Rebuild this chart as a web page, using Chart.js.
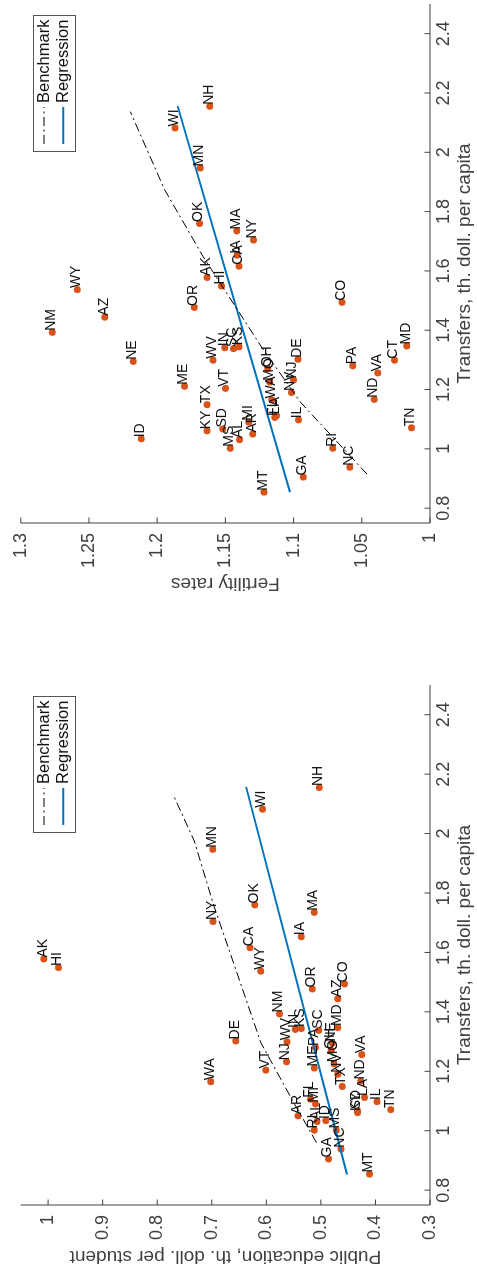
<!DOCTYPE html>
<html>
<head>
<meta charset="utf-8">
<script src="https://cdn.jsdelivr.net/npm/chart.js@4.4.1/dist/chart.umd.min.js"></script>
<style>
html, body { margin: 0; padding: 0; background: #fff; }
body { width: 477px; height: 1269px; overflow: hidden; position: relative; }
/* the figure is laid out landscape and turned a quarter turn */
#figure {
    position: absolute; left: 0; top: 0;
    width: 1269px; height: 477px;
    transform-origin: 0 0;
    transform: translateY(1269px) rotate(-90deg);
    background: #fff;
}
#pubChart { position: absolute; left: 0; top: 0; }
#fertChart { position: absolute; left: 640px; top: 0; }
</style>
</head>
<body>
<div id="figure">
    <canvas id="pubChart" width="600" height="477"></canvas>
    <canvas id="fertChart" width="629" height="477"></canvas>
</div>
<script>
// states, transfers per capita, public education per student (null = off the axis), fertility
const states = ['AK','AL','AR','AZ','CA','CO','CT','DE','FL','GA','HI','IA','ID','IL','IN','KS','KY','LA',
    'MA','MD','ME','MI','MN','MO','MS','MT','NC','ND','NE','NH','NJ','NM','NV','NY','OH','OK','OR','PA',
    'RI','SC','SD','TN','TX','VA','VT','WA','WI','WV','WY'];
const transfers = [1.578, 1.031, 1.050, 1.444, 1.616, 1.494, 1.299, 1.302, 1.106, 0.905, 1.549, 1.653, 1.034,
    1.098, 1.341, 1.344, 1.061, 1.112, 1.735, 1.347, 1.211, 1.090, 1.947, 1.225, 1.002, 0.854, 0.938, 1.167,
    1.295, 2.155, 1.232, 1.393, 1.190, 1.704, 1.270, 1.760, 1.477, 1.280, 1.002, 1.338, 1.067, 1.071, 1.149,
    1.256, 1.204, 1.165, 2.082, 1.299, 1.537];
const pubEdu = [1.008, 0.507, 0.542, 0.469, 0.630, 0.4565, null, 0.656, 0.519, 0.486, 0.981, 0.536, 0.491,
    0.397, 0.547, 0.536, 0.433, 0.420, 0.512, 0.469, 0.512, 0.510, 0.698, 0.476, 0.472, 0.411, 0.463, 0.427,
    0.479, 0.503, 0.563, 0.576, 0.469, 0.6975, 0.481, 0.621, 0.516, 0.510, 0.512, 0.504, 0.433, 0.372, 0.461,
    0.425, 0.601, 0.702, 0.607, 0.562, 0.610];
const fertility = [1.1635, 1.1396, 1.130, 1.2385, 1.140, 1.0645, 1.026, 1.0968, 1.1139, 1.093, 1.1528, 1.1415,
    1.2117, 1.0964, 1.1504, 1.140, 1.1635, 1.1125, 1.1416, 1.017, 1.180, 1.1328, 1.1684, 1.1175, 1.1465, 1.1217,
    1.0589, 1.0409, 1.2175, 1.1615, 1.100, 1.2769, 1.1015, 1.1294, 1.119, 1.169, 1.1728, 1.0567, 1.0713, 1.144,
    1.152, 1.0135, 1.1635, 1.0383, 1.150, 1.116, 1.1869, 1.159, 1.2586];

// model curves
const benchPubX = [0.96, 1.094, 1.296, 1.543, 1.756, 1.975, 2.132];
const benchPubY = [0.508, 0.5496, 0.610, 0.656, 0.696, 0.732, 0.771];
const regPubX = [0.853, 2.157];
const regPubY = [0.452, 0.637];
const benchFertX = [0.915, 1.157, 1.347, 1.65, 1.729, 1.875, 2.137];
const benchFertY = [1.0462, 1.0949, 1.124, 1.1666, 1.1764, 1.1947, 1.2197];
const regFertX = [0.854, 2.156];
const regFertY = [1.1027, 1.185];

// axis ticks
const transferTicks = [0.8, 1, 1.2, 1.4, 1.6, 1.8, 2, 2.2, 2.4];
const pubTicks = [0.3, 0.4, 0.5, 0.6, 0.7, 0.8, 0.9, 1];
const fertTicks = [1, 1.05, 1.1, 1.15, 1.2, 1.25, 1.3];

const FONT = '"Liberation Sans", Arial, Helvetica, sans-serif';
const AXIS_COLOR = '#404040';
const DOT_COLOR = '#D95319';
const REG_COLOR = '#0072BD';

const pairs = (xs, ys) => xs.map((x, i) => ({ x: x, y: ys[i] }));
const fmt = v => String(Math.round(v * 100) / 100);

// axis lines with inward tick marks
const boxAxes = {
    id: 'boxAxes',
    afterDraw(chart) {
        const { ctx, chartArea: a, scales } = chart;
        const len = 5.5;
        ctx.save();
        ctx.strokeStyle = AXIS_COLOR;
        ctx.lineWidth = 1;
        ctx.beginPath();
        ctx.moveTo(a.left, a.top);
        ctx.lineTo(a.left, a.bottom);
        ctx.lineTo(a.right, a.bottom);
        scales.x.ticks.forEach(t => {
            const px = scales.x.getPixelForValue(t.value);
            ctx.moveTo(px, a.bottom);
            ctx.lineTo(px, a.bottom - len);
        });
        scales.y.ticks.forEach(t => {
            const py = scales.y.getPixelForValue(t.value);
            ctx.moveTo(a.left, py);
            ctx.lineTo(a.left + len, py);
        });
        ctx.stroke();
        ctx.restore();
    }
};

// state abbreviations next to each dot
const stateLabels = {
    id: 'stateLabels',
    afterDatasetsDraw(chart) {
        const ctx = chart.ctx;
        chart.data.datasets.forEach((ds, i) => {
            if (!ds.names) return;
            const meta = chart.getDatasetMeta(i);
            ctx.save();
            ctx.font = '14px ' + FONT;
            ctx.fillStyle = '#111';
            ctx.textBaseline = 'middle';
            meta.data.forEach((el, j) => ctx.fillText(ds.names[j], el.x + 1.5, el.y - 1));
            ctx.restore();
        });
    }
};

// framed legend in the upper right corner
const boxLegend = {
    id: 'boxLegend',
    afterDraw(chart) {
        const { ctx, chartArea: a } = chart;
        const items = chart.data.datasets.filter(ds => ds.showLine);
        const w = 136, h = 42;
        const left = Math.round(a.right - 12 - w), top = Math.round(a.top + 12);
        ctx.save();
        ctx.fillStyle = '#fff';
        ctx.fillRect(left, top, w, h);
        ctx.strokeStyle = '#555';
        ctx.lineWidth = 1;
        ctx.strokeRect(left + 0.5, top + 0.5, w, h);
        ctx.font = '16.5px ' + FONT;
        ctx.textBaseline = 'middle';
        items.forEach((ds, k) => {
            const yy = top + 11 + k * 19.3;
            ctx.strokeStyle = ds.borderColor;
            ctx.lineWidth = ds.borderWidth;
            ctx.setLineDash(ds.borderDash || []);
            ctx.beginPath();
            ctx.moveTo(left + 8, yy);
            ctx.lineTo(left + 45, yy);
            ctx.stroke();
            ctx.setLineDash([]);
            ctx.fillStyle = '#111';
            ctx.fillText(ds.label, left + 49, yy);
        });
        ctx.restore();
    }
};

function makePanel(canvasId, o) {
    const names = [], points = [];
    states.forEach((s, i) => {
        if (o.values[i] == null) return;
        names.push(s);
        points.push({ x: transfers[i], y: o.values[i] });
    });

    return new Chart(document.getElementById(canvasId), {
        type: 'scatter',
        data: {
            datasets: [
                {
                    label: 'Benchmark',
                    data: pairs(o.benchX, o.benchY),
                    showLine: true,
                    borderColor: '#000',
                    borderWidth: 1,
                    borderDash: [9, 3.5, 2, 3.5],
                    pointRadius: 0,
                    order: 1
                },
                {
                    label: 'Regression',
                    data: pairs(o.regX, o.regY),
                    showLine: true,
                    borderColor: REG_COLOR,
                    borderWidth: 2,
                    pointRadius: 0,
                    order: 2
                },
                {
                    label: '',
                    names: names,
                    data: points,
                    pointRadius: 3.5,
                    pointBackgroundColor: DOT_COLOR,
                    pointBorderWidth: 0,
                    order: 3
                }
            ]
        },
        options: {
            responsive: false,
            animation: false,
            devicePixelRatio: 1,
            layout: { padding: o.padding },
            plugins: { legend: { display: false }, tooltip: { enabled: false } },
            scales: {
                x: {
                    type: 'linear',
                    min: 0.75,
                    max: 2.5,
                    afterBuildTicks: s => { s.ticks = transferTicks.map(v => ({ value: v })); },
                    afterFit: s => { s.height = 47; },
                    grid: { display: false, drawTicks: false },
                    border: { display: false },
                    ticks: {
                        autoSkip: false, maxRotation: 0, padding: 3,
                        color: AXIS_COLOR, font: { family: FONT, size: 18 },
                        callback: v => fmt(v)
                    },
                    title: {
                        display: true, text: 'Transfers, th. doll. per capita',
                        color: AXIS_COLOR, font: { family: FONT, size: 19 },
                        padding: { top: 0, bottom: 1 }
                    }
                },
                y: {
                    type: 'linear',
                    min: o.yMin,
                    max: o.yMax,
                    afterBuildTicks: s => { s.ticks = o.yTicks.map(v => ({ value: v })); },
                    afterFit: s => { s.width = o.yWidth; },
                    grid: { display: false, drawTicks: false },
                    border: { display: false },
                    ticks: {
                        autoSkip: false, padding: 10,
                        color: AXIS_COLOR, font: { family: FONT, size: 18 },
                        callback: v => fmt(v)
                    },
                    title: {
                        display: true, text: o.yTitle,
                        color: AXIS_COLOR, font: { family: FONT, size: 19 },
                        padding: { top: o.titlePad, bottom: 0 }
                    }
                }
            }
        },
        plugins: [stateLabels, boxAxes, boxLegend]
    });
}

makePanel('pubChart', {
    values: pubEdu,
    benchX: benchPubX, benchY: benchPubY,
    regX: regPubX, regY: regPubY,
    yMin: 0.3, yMax: 1.05, yTicks: pubTicks,
    yTitle: 'Public education, th. doll. per student',
    yWidth: 64, titlePad: 1,
    padding: { left: 0, right: 16, top: 18.5, bottom: 0 }
});

makePanel('fertChart', {
    values: fertility,
    benchX: benchFertX, benchY: benchFertY,
    regX: regFertX, regY: regFertY,
    yMin: 1, yMax: 1.3, yTicks: fertTicks,
    yTitle: 'Fertility rates',
    yWidth: 106, titlePad: 34,
    padding: { left: 0, right: 4, top: 18.5, bottom: 0 }
});
</script>
</body>
</html>
